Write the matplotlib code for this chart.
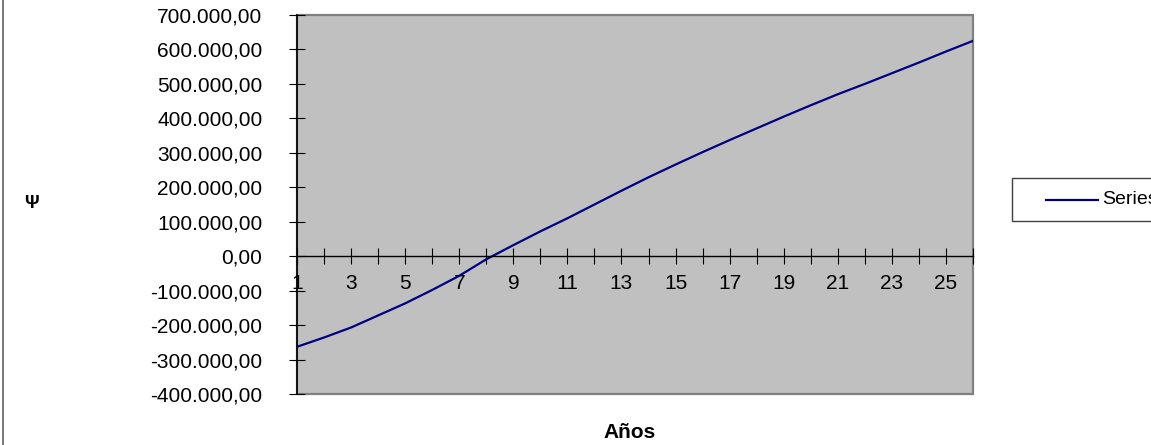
import numpy as np
import matplotlib.pyplot as plt
from matplotlib.ticker import FuncFormatter, MultipleLocator
from matplotlib.patches import Rectangle
from matplotlib.lines import Line2D

plt.rcParams['font.family'] = ['Liberation Sans', 'DejaVu Sans']

# data
years = list(range(1, 27))
values = [-263000, -236000, -207000, -172000, -137000, -98000, -57000, -9000,
          32000, 72000, 110000, 150000, 190000, 229000, 266000, 302000, 337000,
          371000, 405000, 438000, 470000, 500000, 531000, 562000, 594000, 625000]
series_name = 'Series1'
x_label = 'Años'
y_label = 'Ψ'

W, H = 1151, 445
fig = plt.figure(figsize=(W / 100, H / 100), dpi=100)
# plot area in pixels
L, R, T, B = 297, 973, 15, 394
ax = fig.add_axes([L / W, 1 - B / H, (R - L) / W, (B - T) / H])
ax.set_facecolor('#C0C0C0')

line, = ax.plot(years, values, color='#000080', lw=1.6, label=series_name)

ax.set_xlim(1, 26)
ax.set_ylim(-400000, 700000)

# frame: gray box, black left axis, black x axis at zero
for s in ['top', 'right']:
    ax.spines[s].set_visible(False)
ax.add_patch(Rectangle((0, 0), 1, 1, transform=ax.transAxes, fill=False,
                       edgecolor='#808080', lw=1.6, zorder=1, clip_on=False))
ax.spines['left'].set_color('black')
ax.spines['left'].set_linewidth(1.2)
ax.spines['left'].set_zorder(3)
ax.spines['bottom'].set_position(('data', 0))
ax.spines['bottom'].set_color('black')
ax.spines['bottom'].set_linewidth(1.0)

def fmt(v, pos):
    s = '{:,.2f}'.format(abs(v)).replace(',', 'X').replace('.', ',').replace('X', '.')
    return ('-' if v < 0 else '') + s

ax.yaxis.set_major_locator(MultipleLocator(100000))
ax.yaxis.set_major_formatter(FuncFormatter(fmt))
ax.xaxis.set_major_locator(MultipleLocator(2, offset=1))
ax.xaxis.set_minor_locator(MultipleLocator(1))

ax.tick_params(axis='y', direction='inout', length=12, width=0.8, pad=19,
               labelsize=15, colors='black')
ax.tick_params(axis='x', which='both', direction='inout', length=12, width=0.8,
               pad=7, labelsize=15, colors='black')
ax.tick_params(axis='x', which='minor', labelbottom=False)

# axis titles
fig.text(31 / W, 1 - 203 / H, y_label, fontsize=13, fontweight='bold',
         ha='center', va='center')
fig.text(630 / W, 1 - 433 / H, x_label, fontsize=15, fontweight='bold',
         ha='center', va='center')

# legend box (runs off the right edge)
fig.add_artist(Rectangle((1012 / W, 1 - 221 / H), 200 / W, 43 / H,
                         transform=fig.transFigure, facecolor='white',
                         edgecolor='#404040', lw=1.0))
fig.add_artist(Line2D([1046 / W, 1098 / W], [1 - 200 / H, 1 - 200 / H],
                      transform=fig.transFigure, color=line.get_color(), lw=1.6))
fig.text(1102 / W, 1 - 200 / H, series_name, fontsize=14, ha='left',
         va='center')

# chart area border on the left
fig.add_artist(Line2D([3 / W, 3 / W], [0, 1], transform=fig.transFigure,
                      color='#606060', lw=1.2))

fig.savefig('out.png', dpi=100)
